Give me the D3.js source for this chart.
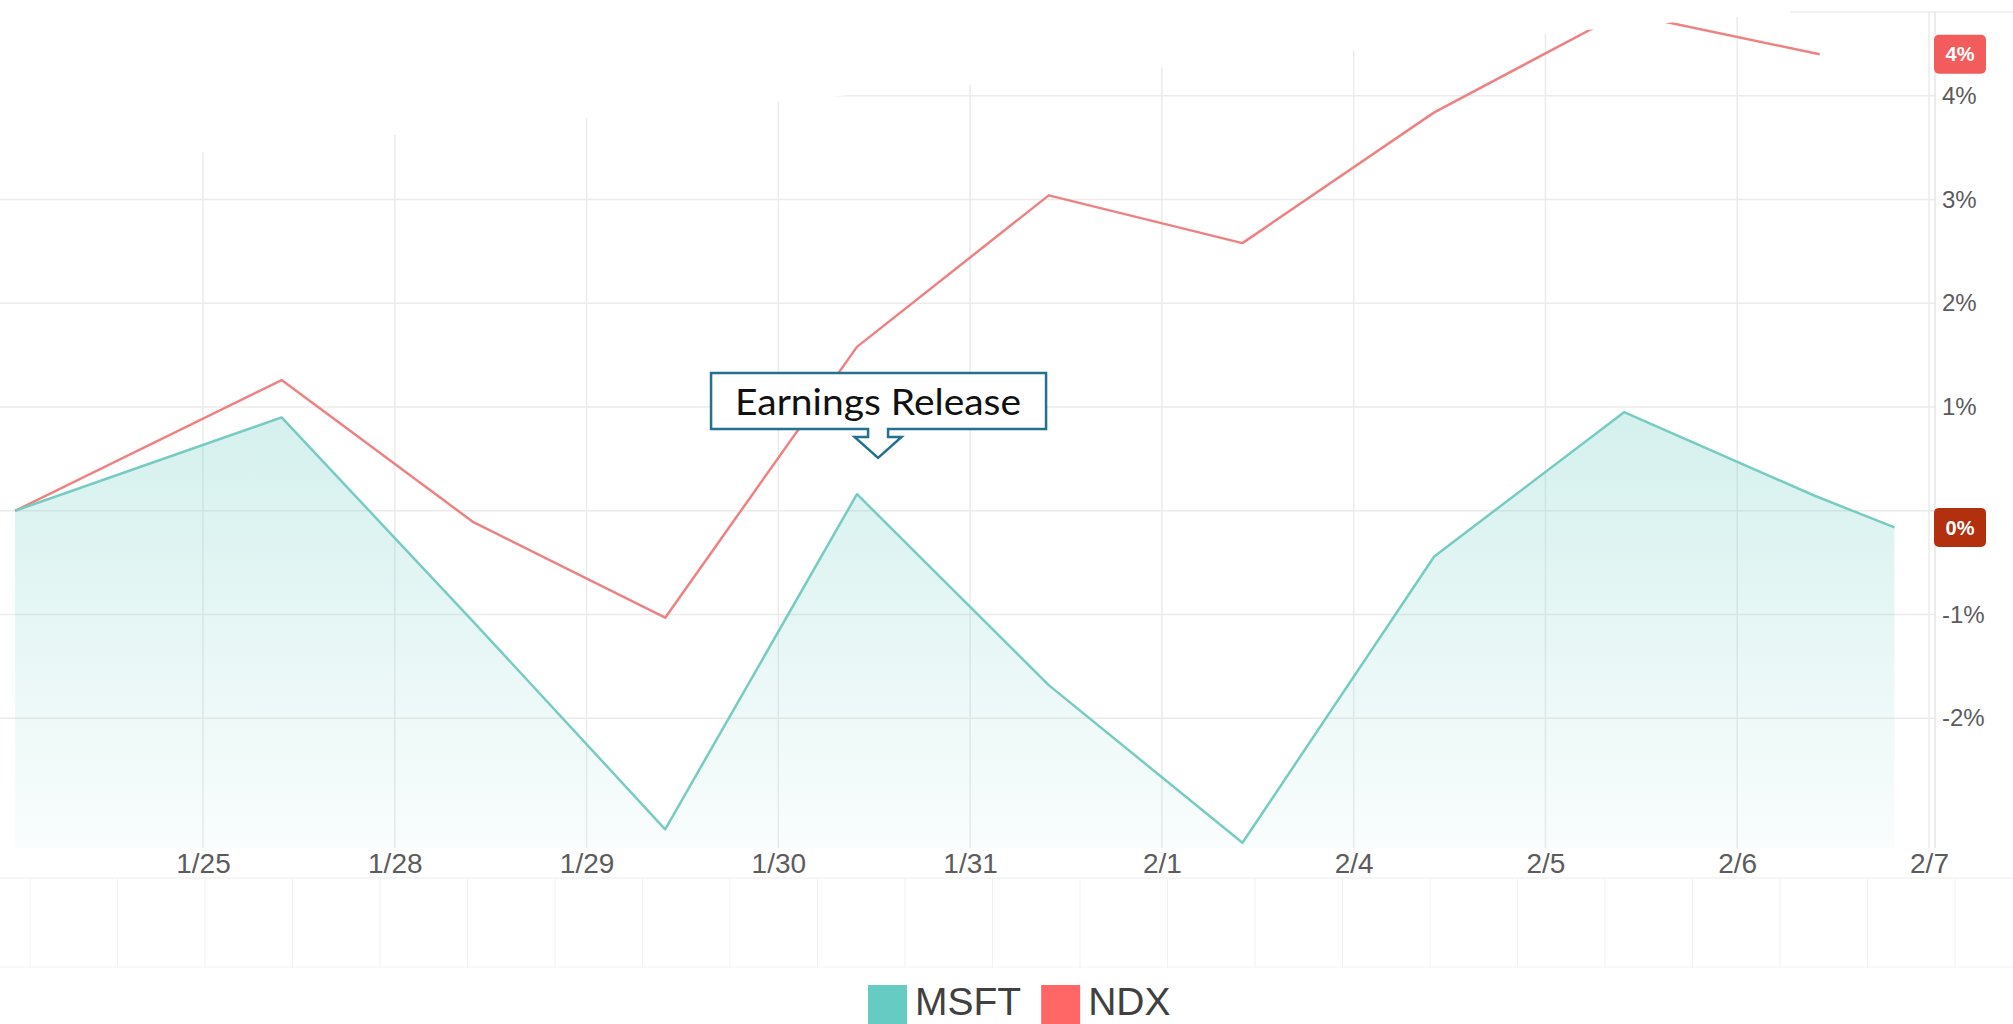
<!DOCTYPE html>
<html>
<head>
<meta charset="utf-8">
<script src="https://cdn.jsdelivr.net/npm/d3@7"></script>
<style>
  html, body { margin: 0; padding: 0; background: #fff; overflow: hidden; }
  svg { display: block; }
  .axis text { font-family: 'Liberation Sans', Arial, sans-serif; fill: #5c5c5c; }
  .axis .domain { display: none; }
</style>
</head>
<body>
<svg class="chart"></svg>
<script>
// trading days on the x axis, as index positions
const dayTicks = [0, 1, 2, 3, 4, 5, 6, 7, 8, 9]
const dayLabels = ['1/25', '1/28', '1/29', '1/30', '1/31', '2/1', '2/4', '2/5', '2/6', '2/7']

// percent change since start
const msftDays = [-0.98, 0.41, 1.41, 2.41, 3.41, 4.41, 5.42, 6.42, 7.41, 8.41, 8.82]
const msftValues = [0, 0.90, -1.07, -3.07, 0.16, -1.68, -3.20, -0.44, 0.95, 0.14, -0.16]
const ndxDays = [-0.98, 0.41, 1.41, 2.41, 3.41, 4.41, 5.42, 6.42, 7.40, 8.43]
const ndxValues = [0, 1.26, -0.11, -1.03, 1.58, 3.04, 2.58, 3.84, 4.80, 4.40]

const percentTicks = [-2, -1, 0, 1, 2, 3, 4]
const seriesNames = ['MSFT', 'NDX']
const seriesColors = ['#66cbc2', '#ff6666']
const lineColors = ['#78cbc2', '#ee8282']
const lastBoxColors = ['#b3300f', '#f25c5c']
const annotation = { day: 3.52, value: 0.51, text: 'Earnings Release' }

const width = 2013
const height = 1024
const plotRight = 1935
const plotBottom = 848

const msft = msftDays.map((d, i) => ({ day: d, value: msftValues[i] }))
const ndx = ndxDays.map((d, i) => ({ day: d, value: ndxValues[i] }))

const x = d3.scaleLinear().domain([0, 9]).range([203, 1929])
const y = d3.scaleLinear().domain([-3.25, 4.923]).range([plotBottom, 0])

const svg = d3.select('.chart').attr('width', width).attr('height', height)

const defs = svg.append('defs')
defs.append('clipPath').attr('id', 'plot-clip')
  .append('rect').attr('width', plotRight).attr('height', plotBottom)

const grad = defs.append('linearGradient').attr('id', 'msft-fill')
  .attr('gradientUnits', 'userSpaceOnUse')
  .attr('x1', 0).attr('x2', 0)
  .attr('y1', y(d3.max(msftValues))).attr('y2', plotBottom)
grad.append('stop').attr('offset', 0).attr('stop-color', seriesColors[0]).attr('stop-opacity', 0.28)
grad.append('stop').attr('offset', 1).attr('stop-color', seriesColors[0]).attr('stop-opacity', 0.04)

// navigator strip below the plot
const navX = d3.scaleLinear().domain([0, 22]).range([30, 1955])
svg.append('g').selectAll('line')
  .data(d3.range(0, 23))
  .enter().append('line')
  .attr('x1', d => navX(d)).attr('x2', d => navX(d))
  .attr('y1', 879).attr('y2', 968)
  .attr('stroke', '#f1f1f1')
svg.append('line').attr('x1', 0).attr('x2', width).attr('y1', 878).attr('y2', 878).attr('stroke', '#ececec')
svg.append('line').attr('x1', 0).attr('x2', width).attr('y1', 967).attr('y2', 967).attr('stroke', '#f4f4f4')

// grid
svg.append('g').selectAll('line')
  .data(percentTicks)
  .enter().append('line')
  .attr('x1', 0).attr('x2', plotRight)
  .attr('y1', d => y(d)).attr('y2', d => y(d))
  .attr('stroke', '#ebebeb').attr('stroke-width', 1.5)

svg.append('g').selectAll('line')
  .data(dayTicks)
  .enter().append('line')
  .attr('x1', d => x(d)).attr('x2', d => x(d))
  .attr('y1', 0).attr('y2', plotBottom)
  .attr('stroke', '#ebebeb').attr('stroke-width', 1.5)

svg.append('line')
  .attr('x1', plotRight).attr('x2', plotRight)
  .attr('y1', 12).attr('y2', plotBottom)
  .attr('stroke', '#e6e6e6').attr('stroke-width', 1.5)

// series
const plot = svg.append('g').attr('clip-path', 'url(#plot-clip)')

plot.append('path')
  .datum(msft)
  .attr('fill', 'url(#msft-fill)')
  .attr('d', d3.area().x(d => x(d.day)).y0(plotBottom).y1(d => y(d.value)))

const line = d3.line().x(d => x(d.day)).y(d => y(d.value))

plot.append('path')
  .datum(ndx)
  .attr('fill', 'none')
  .attr('stroke', lineColors[1])
  .attr('stroke-width', 2.5)
  .attr('stroke-linejoin', 'round')
  .attr('d', line)

plot.append('path')
  .datum(msft)
  .attr('fill', 'none')
  .attr('stroke', lineColors[0])
  .attr('stroke-width', 2.5)
  .attr('stroke-linejoin', 'round')
  .attr('d', line)

// whited-out corner at the top of the picture
svg.append('polygon')
  .attr('points', [[0, 0], [width, 0], [width, 12], [1790, 12], [0, 170]].join(' '))
  .attr('fill', '#fff')
svg.append('line').attr('x1', 1790).attr('x2', width).attr('y1', 12).attr('y2', 12).attr('stroke', '#e4e4e4')

// axes
svg.append('g').attr('class', 'axis')
  .attr('transform', `translate(0,${plotBottom})`)
  .call(d3.axisBottom(x).tickValues(dayTicks).tickSize(0).tickPadding(5)
    .tickFormat((d, i) => dayLabels[i]))
  .selectAll('text').style('font-size', '28px')

svg.append('g').attr('class', 'axis')
  .attr('transform', `translate(${plotRight},0)`)
  .call(d3.axisRight(y).tickValues(percentTicks.filter(d => d !== 0)).tickSize(0).tickPadding(7)
    .tickFormat(d => `${d}%`))
  .selectAll('text').style('font-size', '24px')

// last value boxes
const lastValues = [msft[msft.length - 1].value, ndx[ndx.length - 1].value]
const boxes = svg.append('g').selectAll('g')
  .data(lastValues)
  .enter().append('g')
  .attr('transform', d => `translate(1934,${y(d)})`)
boxes.append('rect')
  .attr('y', -19.5).attr('width', 52).attr('height', 39).attr('rx', 5)
  .attr('fill', (d, i) => lastBoxColors[i])
boxes.append('text')
  .attr('x', 26).attr('dy', '0.36em')
  .attr('text-anchor', 'middle')
  .style('font-family', "'Liberation Sans', Arial, sans-serif")
  .style('font-weight', 'bold').style('font-size', '20px')
  .attr('fill', '#fff')
  .text(d => `${Math.round(d) || 0}%`)

// annotation callout
const tx = x(annotation.day)
const ty = y(annotation.value)
const callout = svg.append('g').attr('transform', `translate(${tx},${ty})`)
callout.append('path')
  .attr('d', 'M-167,-85H168V-29H10V-21H23.5L0,0L-23.5,-21H-10V-29H-167Z')
  .attr('fill', '#fff')
  .attr('stroke', '#23708f')
  .attr('stroke-width', 2.5)
callout.append('text')
  .attr('y', -43)
  .attr('text-anchor', 'middle')
  .attr('textLength', 286).attr('lengthAdjust', 'spacingAndGlyphs')
  .style('font-family', 'Lato, sans-serif').style('font-size', '37px')
  .attr('fill', '#111')
  .text(annotation.text)

// legend
const legend = svg.append('g').attr('transform', 'translate(868,985)')
let offset = 0
seriesNames.forEach((name, i) => {
  const item = legend.append('g').attr('transform', `translate(${offset},0)`)
  item.append('rect').attr('width', 39).attr('height', 39).attr('fill', seriesColors[i])
  const label = item.append('text')
    .attr('x', 47).attr('y', 30)
    .style('font-family', "'Liberation Sans', Arial, sans-serif").style('font-size', '39px')
    .attr('fill', '#404040')
    .text(name)
  offset += 47 + label.node().getComputedTextLength() + 20
})
</script>
</body>
</html>
